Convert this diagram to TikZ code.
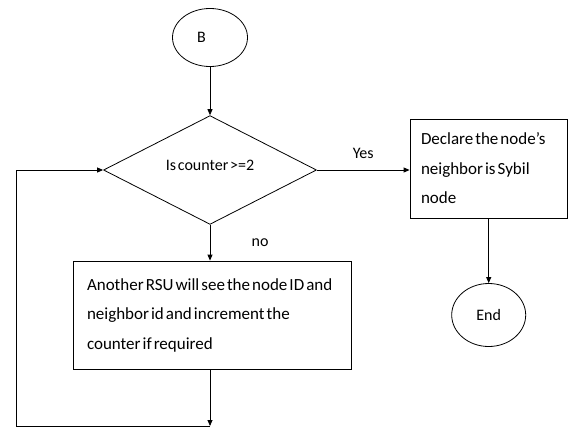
\documentclass[tikz,border=0pt]{standalone}
\usepackage{fontspec}
\setmainfont{Carlito}[WordSpace=0.5]
\usepackage{tikz}
\usetikzlibrary{arrows.meta,shapes.geometric}
\newcommand{\flowFont}{\fontsize{16}{29.5}\selectfont}
\newcommand{\boxFont}{\fontsize{17}{29.5}\selectfont}
\newcommand{\tightSpaces}{\spaceskip=0.12em plus 0.04em minus 0.02em\relax}
\newcommand{\pageWidth}{569}
\newcommand{\pageHeight}{428}
\newcommand{\loopX}{16.7}
\newcommand{\loopY}{426}

\begin{document}
\begin{tikzpicture}[x=1pt, y=-1pt, line width=0.8pt,
    every node/.style={font=\flowFont},
    terminal/.style={draw, ellipse, inner sep=0pt},
    decision/.style={draw, diamond, inner sep=0pt},
    process/.style={draw, rectangle, align=left, font=\boxFont, inner ysep=0pt, execute at begin node=\tightSpaces},
    flow/.style={-{Triangle[length=6pt,width=5pt]}}]

   \useasboundingbox (0,0) rectangle (\pageWidth,\pageHeight);

   % terminals
   \node[terminal, minimum width=75pt, minimum height=58pt] (start) at (210,37.5) {\makebox[26pt][l]{B}};
   \node[terminal, minimum width=74pt, minimum height=63pt] (stop) at (488.7,315) {End};

   % decision
   \node[decision, minimum width=213pt, minimum height=98pt] (check) at (210,170) {\raisebox{10pt}{Is counter >=2}};

   % processes
   \node[process, minimum width=157pt, minimum height=99pt, inner xsep=11pt, text width=135pt] (sybil) at (488.5,168.5)
      {Declare the node’s\\neighbor is Sybil\\node};
   \node[process, minimum width=278pt, minimum height=108pt, inner xsep=14pt, text width=250pt] (update) at (212,315)
      {Another RSU will see the node ID and\\neighbor id and increment the\\counter if required};

   \coordinate (back) at (210,\loopY);
   \coordinate (corner) at (\loopX,\loopY);

   % connectors
   \draw[flow] (start) -- (check.north);
   \draw[flow] (check.east) -- (check.east -| sybil.west) node[midway, above=8pt] {Yes};
   \draw[flow] (sybil.south -| stop) -- (stop);
   \draw[flow] (check.south) -- (update.north -| check) node[midway, right=38pt] {no};
   \draw[flow] (update.south -| back) -- (back);
   \draw[flow] (back) -- (corner) |- (check.west);
\end{tikzpicture}
\end{document}
